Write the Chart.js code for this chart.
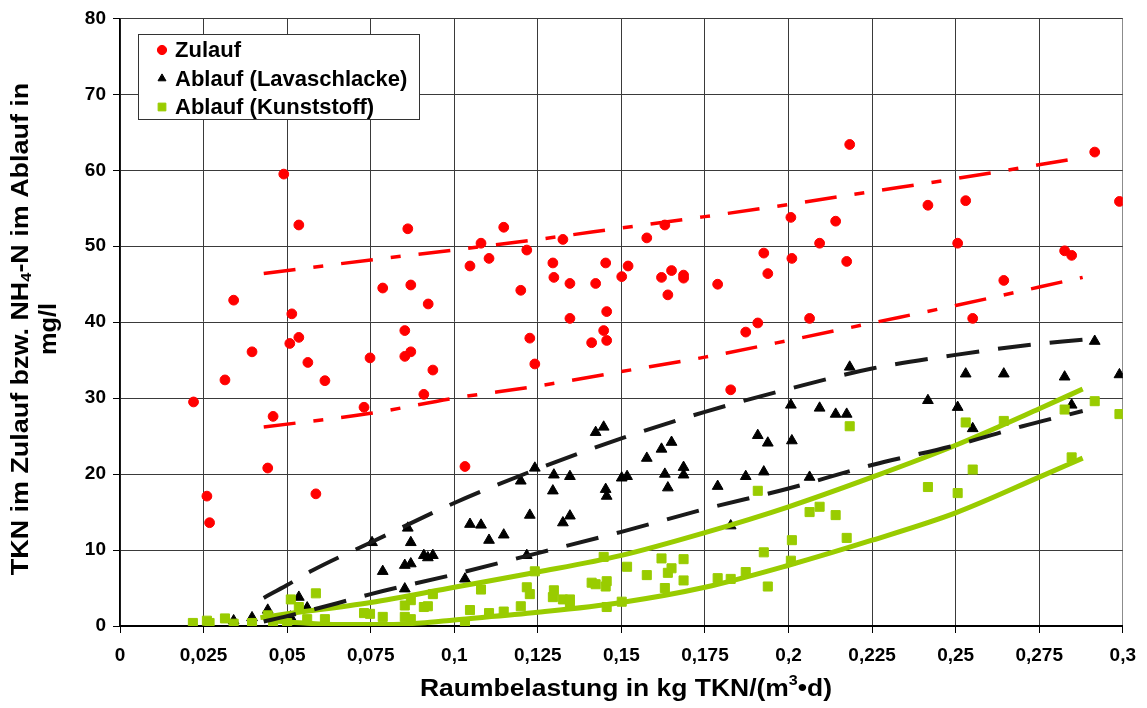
<!DOCTYPE html>
<html>
<head>
<meta charset="utf-8">
<script src="https://cdn.jsdelivr.net/npm/chart.js@4.4.1/dist/chart.umd.min.js"></script>
<style>
  html, body { margin: 0; padding: 0; background: #fff; }
</style>
</head>
<body>
<canvas id="chart" width="1147" height="708"></canvas>
<script>
// Messwerte [Raumbelastung, Konzentration]
const zulauf = [
  [0.022,29.5],[0.026,17.1],[0.0268,13.6],[0.0314,32.4],[0.034,42.9],[0.0395,36.1],
  [0.0442,20.8],[0.0458,27.6],[0.049,59.5],[0.0508,37.2],[0.0514,41.1],[0.0535,52.8],
  [0.0535,38.0],[0.0562,34.7],[0.0586,17.4],[0.0613,32.3],[0.073,28.8],[0.0748,35.3],
  [0.0786,44.5],[0.0852,38.9],[0.0852,35.5],[0.0861,52.3],[0.087,44.9],[0.087,36.1],
  [0.0909,30.5],[0.0922,42.4],[0.0936,33.7],[0.1032,21.0],[0.1047,47.4],[0.108,50.4],
  [0.1104,48.4],[0.1148,52.5],[0.1199,44.2],[0.1217,49.5],[0.1226,37.9],[0.1241,34.5],
  [0.1295,47.8],[0.1298,45.9],[0.1325,50.9],[0.1346,45.1],[0.1346,40.5],[0.1411,37.3],
  [0.1423,45.1],[0.1447,38.9],[0.1453,47.8],[0.1456,41.4],[0.1456,37.6],[0.1501,46.0],
  [0.152,47.4],[0.1576,51.1],[0.162,45.9],[0.163,52.8],[0.1639,43.6],[0.165,46.8],
  [0.1686,46.2],[0.1686,45.8],[0.1788,45.0],[0.1827,31.1],[0.1872,38.7],[0.1908,39.9],
  [0.1926,49.1],[0.1938,46.4],[0.2007,53.8],[0.201,48.4],[0.2063,40.5],[0.2093,50.4],
  [0.2141,53.3],[0.2174,48.0],[0.2183,63.4],[0.2417,55.4],[0.2506,50.4],[0.253,56.0],
  [0.2551,40.5],[0.2644,45.5],[0.2826,49.4],[0.2847,48.8],[0.2916,62.4],[0.299,55.9]
]

const ablaufLava = [
  [0.034,0.7],[0.0395,1.1],[0.0442,2.1],[0.051,1.2],[0.0535,3.8],[0.056,2.4],
  [0.0754,11.0],[0.0786,7.2],[0.0852,8.0],[0.0852,4.9],[0.0861,12.9],[0.087,11.0],
  [0.087,8.2],[0.0909,9.3],[0.0921,9.0],[0.0936,9.3],[0.1032,6.2],[0.1047,13.4],
  [0.108,13.3],[0.1104,11.3],[0.1148,12.0],[0.1199,19.1],[0.1217,9.3],[0.1226,14.6],
  [0.1241,20.8],[0.1295,17.8],[0.1298,19.9],[0.1325,13.6],[0.1346,19.7],[0.1346,14.5],
  [0.1423,25.5],[0.1447,26.2],[0.1453,18.0],[0.1456,17.1],[0.1501,19.5],[0.1517,19.7],
  [0.1576,22.1],[0.162,23.3],[0.163,20.0],[0.1639,18.2],[0.165,24.2],[0.1686,20.9],
  [0.1686,19.9],[0.1788,18.4],[0.1827,13.2],[0.1872,19.7],[0.1908,25.1],[0.1926,20.3],
  [0.1938,24.1],[0.2007,29.1],[0.201,24.4],[0.2063,19.6],[0.2093,28.7],[0.2141,27.9],
  [0.2174,27.9],[0.2183,34.1],[0.2417,29.7],[0.2506,28.8],[0.253,33.2],[0.2551,26.0],
  [0.2644,33.2],[0.2826,32.8],[0.2847,29.1],[0.2916,37.5],[0.299,33.1]
]

const ablaufKunst = [
  [0.0218,0.4],[0.026,0.7],[0.0268,0.4],[0.0314,1.0],[0.034,0.3],[0.0395,0.4],
  [0.0442,1.4],[0.0458,0.3],[0.050,0.4],[0.0511,3.5],[0.0535,2.5],[0.056,0.9],
  [0.0586,4.3],[0.0613,0.9],[0.073,1.7],[0.0748,1.6],[0.0786,1.2],[0.0852,1.2],
  [0.0852,2.7],[0.087,0.9],[0.087,3.4],[0.0909,2.5],[0.0921,2.6],[0.0936,4.2],
  [0.1032,0.4],[0.1047,2.1],[0.108,4.8],[0.1104,1.7],[0.1148,1.9],[0.1199,2.6],
  [0.1217,5.1],[0.1226,4.2],[0.1241,7.2],[0.1295,3.8],[0.1298,4.7],[0.1325,3.5],
  [0.1346,3.5],[0.1346,2.8],[0.1411,5.7],[0.1423,5.5],[0.1447,9.1],[0.1453,5.2],
  [0.1456,5.9],[0.1456,2.5],[0.1501,3.2],[0.1517,7.8],[0.1576,6.7],[0.162,8.9],
  [0.163,5.0],[0.1639,7.0],[0.165,7.6],[0.1686,8.8],[0.1686,6.0],[0.1788,6.3],
  [0.1827,6.2],[0.1872,7.1],[0.1908,17.8],[0.1926,9.7],[0.1938,5.2],[0.2007,8.6],
  [0.201,11.3],[0.2063,15.0],[0.2093,15.7],[0.2141,14.6],[0.2174,11.6],[0.2183,26.3],
  [0.2417,18.3],[0.2506,17.5],[0.253,26.8],[0.2551,20.6],[0.2644,27.0],[0.2826,28.5],
  [0.2847,22.2],[0.2916,29.6],[0.299,27.9]
]

// Vertrauensbereiche (obere / untere Grenze)
const zulaufOben  = [[0.043,46.4],[0.075,48.2],[0.1,49.5],[0.125,50.9],[0.15,52.4],[0.175,53.9],[0.2,55.5],[0.225,57.2],[0.25,58.9],[0.288,61.7]]
const zulaufUnten = [[0.043,26.2],[0.075,28.0],[0.1,30.0],[0.125,31.6],[0.15,33.5],[0.175,35.4],[0.2,37.6],[0.225,39.9],[0.25,42.2],[0.288,45.9]]
const lavaOben    = [[0.043,3.7],[0.05,5.4],[0.0575,7.3],[0.075,11.0],[0.1,16.2],[0.125,20.7],[0.15,24.7],[0.175,28.2],[0.2,31.2],[0.225,33.9],[0.25,35.7],[0.27,36.9],[0.288,37.7]]
const lavaUnten   = [[0.043,0.6],[0.05,1.3],[0.065,3.0],[0.075,4.2],[0.1,6.8],[0.125,9.6],[0.15,12.4],[0.175,15.4],[0.2,18.1],[0.225,21.2],[0.25,23.8],[0.27,26.3],[0.288,28.3]]
const kunstOben   = [[0.042,1.1],[0.05,1.6],[0.075,3.1],[0.1,5.1],[0.125,7.1],[0.15,9.3],[0.175,12.3],[0.2,15.7],[0.225,19.6],[0.25,23.8],[0.275,28.6],[0.288,31.2]]
const kunstUnten  = [[0.045,0.7],[0.055,0.4],[0.065,0.2],[0.08,0.2],[0.09,0.4],[0.1,0.8],[0.125,1.8],[0.15,3.1],[0.175,5.1],[0.2,8.0],[0.225,11.3],[0.25,14.9],[0.275,19.6],[0.288,22.1]]

const xTicks = [0,0.025,0.05,0.075,0.1,0.125,0.15,0.175,0.2,0.225,0.25,0.275,0.3]
const yTicks = [0,10,20,30,40,50,60,70,80]

const FONT = "'Liberation Sans', Arial, sans-serif"
const ROT = '#ff0000'
const SCHWARZ = '#000000'
const GRUEN = '#99cc00'

const toXY = arr => arr.map(p => ({ x: p[0], y: p[1] }))

function komma(v) {
  return String(+v.toFixed(3)).replace('.', ',')
}

function punkte(label, data, color, style, radius, order) {
  return {
    type: 'scatter', label, data: toXY(data), order,
    pointStyle: style, pointRadius: radius, pointHoverRadius: radius,
    backgroundColor: color, borderColor: color, borderWidth: 1
  }
}

function linie(data, color, width, dash) {
  return {
    type: 'line', data: toXY(data), order: 0, showLine: true,
    borderColor: color, borderWidth: width, borderDash: dash,
    borderCapStyle: 'butt', pointRadius: 0, fill: false,
    cubicInterpolationMode: 'monotone'
  }
}

/* ===============================
   LEGENDE IM DIAGRAMM
================================ */
const legendBox = {
  id: 'legendBox',
  afterDraw(chart) {
    const ctx = chart.ctx
    const items = chart.data.datasets.filter(d => d.type === 'scatter')
    ctx.save()
    ctx.fillStyle = '#fff'
    ctx.strokeStyle = '#333'
    ctx.lineWidth = 1
    ctx.fillRect(138.5, 34.5, 281, 85)
    ctx.strokeRect(138.5, 34.5, 281, 85)
    ctx.font = `bold 22px ${FONT}`
    ctx.textBaseline = 'middle'
    items.forEach((d, i) => {
      const y = 50 + i * 28.5
      ctx.fillStyle = d.backgroundColor
      ctx.strokeStyle = d.borderColor
      Chart.helpers.drawPoint(ctx, { pointStyle: d.pointStyle, radius: d.pointStyle === 'rect' ? 5.5 : 4.6, borderWidth: 1, rotation: 0 }, 162, y)
      ctx.fillStyle = '#000'
      ctx.fillText(d.label, 175, y + 1)
    })
    ctx.restore()
  }
}

/* ===============================
   ACHSENTITEL MIT HOCH-/TIEFSTELLUNG
================================ */
function richText(ctx, parts, cx, cy, size, sx) {
  const big = `bold ${size}px ${FONT}`
  const small = `bold ${Math.round(size * 0.62)}px ${FONT}`
  let w = 0
  parts.forEach(p => { ctx.font = p.sup || p.sub ? small : big; p.w = ctx.measureText(p.t).width; w += p.w })
  ctx.save()
  ctx.translate(cx, cy)
  ctx.scale(sx, 1)
  let x = -w / 2
  parts.forEach(p => {
    ctx.font = p.sup || p.sub ? small : big
    const dy = p.sup ? -size * 0.38 : p.sub ? size * 0.22 : 0
    ctx.fillText(p.t, x, dy)
    x += p.w
  })
  ctx.restore()
}

const axisTitles = {
  id: 'axisTitles',
  afterDraw(chart) {
    const ctx = chart.ctx
    ctx.save()
    ctx.fillStyle = '#000'
    ctx.textBaseline = 'middle'
    ctx.textAlign = 'left'
    richText(ctx, [{ t: 'Raumbelastung in kg TKN/(m' }, { t: '3', sup: true }, { t: '•d)' }], 626, 690, 23, 1.15)

    ctx.translate(0, 329)
    ctx.rotate(-Math.PI / 2)
    richText(ctx, [{ t: 'TKN im Zulauf bzw. NH' }, { t: '4', sub: true }, { t: '-N im Ablauf in' }], 0, 22, 23, 1.17)
    richText(ctx, [{ t: 'mg/l' }], 0, 50, 23, 1.1)
    ctx.restore()
  }
}

const tickFont = { family: FONT, weight: 'bold', size: 19 }

new Chart(document.getElementById('chart'), {
  type: 'scatter',
  data: {
    datasets: [
      punkte('Zulauf', zulauf, ROT, 'circle', 4.9, 3),
      punkte('Ablauf (Lavaschlacke)', ablaufLava, SCHWARZ, 'triangle', 6.2, 2),
      punkte('Ablauf (Kunststoff)', ablaufKunst, GRUEN, 'rect', 6.4, 1),
      linie(zulaufOben, ROT, 3.5, [32, 18, 10, 18]),
      linie(zulaufUnten, ROT, 3.5, [32, 18, 10, 18]),
      linie(lavaOben, '#1a1a1a', 4, [33, 19]),
      linie(lavaUnten, '#1a1a1a', 4, [33, 19]),
      linie(kunstOben, GRUEN, 5, []),
      linie(kunstUnten, GRUEN, 5, [])
    ]
  },
  options: {
    responsive: false,
    animation: false,
    devicePixelRatio: 1,
    layout: { padding: { top: 18, right: 24, left: 0, bottom: 0 } },
    plugins: {
      legend: { display: false },
      tooltip: { enabled: false }
    },
    scales: {
      x: {
        type: 'linear', min: 0, max: 0.3,
        afterBuildTicks: s => { s.ticks = xTicks.map(v => ({ value: v })) },
        afterFit: s => { s.height = 82 },
        grid: {
          color: c => c.tick && c.tick.value === 0.3 ? '#8c8c8c' : '#3a3a3a',
          tickColor: '#000', tickLength: 7, lineWidth: 1
        },
        border: { color: '#000', width: 2 },
        ticks: {
          font: tickFont, color: '#000', padding: 11, maxRotation: 0, autoSkip: false,
          callback: v => komma(v)
        }
      },
      y: {
        type: 'linear', min: 0, max: 80,
        afterBuildTicks: s => { s.ticks = yTicks.map(v => ({ value: v })) },
        afterFit: s => { s.width = 120 },
        grid: { color: '#3a3a3a', tickColor: '#000', tickLength: 7, lineWidth: 1 },
        border: { color: '#000', width: 1.5 },
        ticks: { font: tickFont, color: '#000', padding: 7, callback: v => String(v) }
      }
    }
  },
  plugins: [legendBox, axisTitles]
})
</script>
</body>
</html>
